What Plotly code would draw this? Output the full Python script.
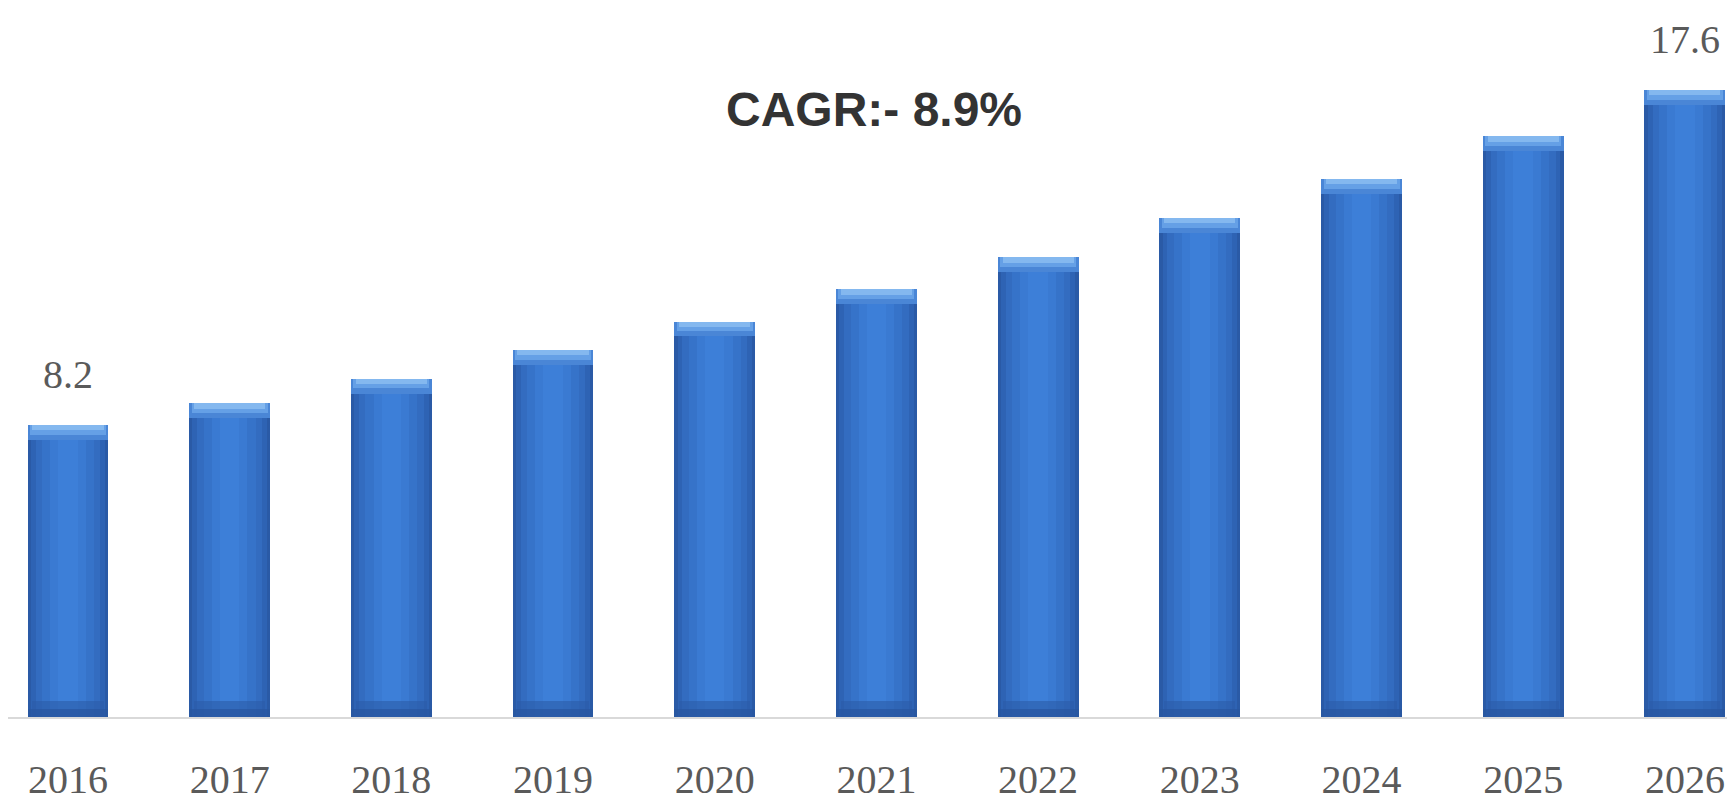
import plotly.graph_objects as go

years = ["2016", "2017", "2018", "2019", "2020", "2021", "2022", "2023", "2024", "2025", "2026"]
values = [8.2, 8.8, 9.5, 10.3, 11.1, 12.0, 12.9, 14.0, 15.1, 16.3, 17.6]
labelled = ["2016", "2026"]
cagr_text = "CAGR:- 8.9%"

fig = go.Figure()

# horizontal gradient simulated with overlaid bars of decreasing width
layers = [
    (0.50, "#2a5aa6"),
    (0.46, "#2e63b4"),
    (0.40, "#336cc0"),
    (0.32, "#3673c9"),
    (0.22, "#3a7ad2"),
    (0.12, "#3d7fd8"),
]
for w, c in layers:
    fig.add_trace(go.Bar(x=years, y=values, width=w, marker=dict(color=c, line=dict(width=0)),
                         hoverinfo="skip", showlegend=False))

# subtle darker band near the base
fig.add_trace(go.Bar(x=years, y=[0.45] * len(values), base=[0] * len(values), width=0.44,
                     marker=dict(color="#2c5ba8", opacity=0.6, line=dict(width=0)), hoverinfo="skip", showlegend=False))
fig.add_trace(go.Bar(x=years, y=[0.22] * len(values), base=[0] * len(values), width=0.5,
                     marker=dict(color="#28559f", opacity=0.7, line=dict(width=0)), hoverinfo="skip", showlegend=False))

# light top cap
cap = 0.42
fig.add_trace(go.Bar(x=years, y=[cap] * len(values), base=[v - cap for v in values], width=0.5,
                     marker=dict(color="#4a86d6", line=dict(width=0)), hoverinfo="skip", showlegend=False))
fig.add_trace(go.Bar(x=years, y=[cap * 0.65] * len(values), base=[v - cap * 0.65 for v in values], width=0.47,
                     marker=dict(color="#65a0e6", line=dict(width=0)), hoverinfo="skip", showlegend=False))
fig.add_trace(go.Bar(x=years, y=[cap * 0.35] * len(values), base=[v - cap * 0.35 for v in values], width=0.44,
                     marker=dict(color="#84b8ef", line=dict(width=0)), hoverinfo="skip", showlegend=False))

for i, (yr, v) in enumerate(zip(years, values)):
    if yr in labelled:
        fig.add_annotation(x=i, y=v, text=f"{v}", showarrow=False, yshift=50,
                           font=dict(family="Liberation Serif", size=40, color="#5a5a5a"))

fig.add_annotation(xref="paper", yref="paper", x=0.5014, y=0.8565, xanchor="center", yanchor="middle",
                   text=f"<b>{cagr_text}</b>",
                   showarrow=False, font=dict(family="Liberation Sans", size=48, color="#333333"))

fig.update_layout(
    width=1727, height=794,
    margin=dict(l=0, r=0, t=0, b=83),
    barmode="overlay",
    bargap=0,
    plot_bgcolor="white", paper_bgcolor="white",
    showlegend=False,
)
fig.update_xaxes(type="category", range=[-0.371, 10.31], showgrid=False, zeroline=False,
                 showline=True, linecolor="#d9d9d9", linewidth=2,
                 ticks="", ticklabelstandoff=26,
                 tickfont=dict(family="Liberation Serif", size=40, color="#5a5a5a"))
fig.update_yaxes(range=[0, 19.9], showgrid=False, zeroline=False, showticklabels=False, showline=False)

fig.write_html("out.html")
